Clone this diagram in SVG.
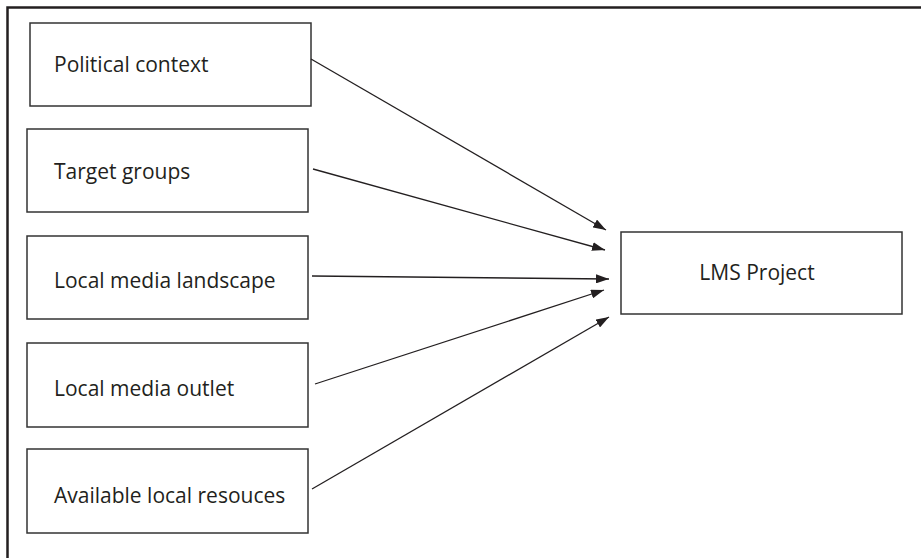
<svg xmlns="http://www.w3.org/2000/svg" width="921" height="558" viewBox="0 0 921 558">
<style>
.box{fill:#fff;stroke:#333;stroke-width:1.5}
.lbl{font-family:"Open Sans","Noto Sans","Liberation Sans",sans-serif;font-size:21px;fill:#231f20}
.con{stroke:#231f20;stroke-width:1.3;fill:none;marker-end:url(#ah)}
</style>
<defs>
<marker id="ah" viewBox="0 0 13 9" refX="13" refY="4.5" markerWidth="13" markerHeight="9" markerUnits="userSpaceOnUse" orient="auto">
<path d="M0,0 L13,4.5 L0,9 Z" fill="#231f20"/>
</marker>
</defs>
<rect width="921" height="558" fill="#fff"/>
<path d="M7.5,558 V7.5 H921" fill="none" stroke="#231f20" stroke-width="2.5"/>
<g id="n1"><rect class="box" x="30" y="23" width="281" height="83"/><text class="lbl" x="54" y="72">Political context</text></g>
<g id="n2"><rect class="box" x="27" y="129" width="281" height="83"/><text class="lbl" x="54" y="179">Target groups</text></g>
<g id="n3"><rect class="box" x="27" y="236" width="281" height="83"/><text class="lbl" x="54" y="288">Local media landscape</text></g>
<g id="n4"><rect class="box" x="27" y="343" width="281" height="84"/><text class="lbl" x="54" y="396">Local media outlet</text></g>
<g id="n5"><rect class="box" x="27" y="449" width="281" height="84"/><text class="lbl" x="54" y="503">Available local resouces</text></g>
<g id="n6"><rect class="box" x="621" y="232" width="281" height="82"/><text class="lbl" x="757" y="280" text-anchor="middle">LMS Project</text></g>
<g id="connectors">
<line class="con" x1="311" y1="59" x2="606" y2="230"/>
<line class="con" x1="313" y1="169" x2="605" y2="250"/>
<line class="con" x1="312" y1="276" x2="609" y2="279"/>
<line class="con" x1="315" y1="384" x2="604" y2="290"/>
<line class="con" x1="312" y1="489" x2="609" y2="317"/>
</g>
</svg>
